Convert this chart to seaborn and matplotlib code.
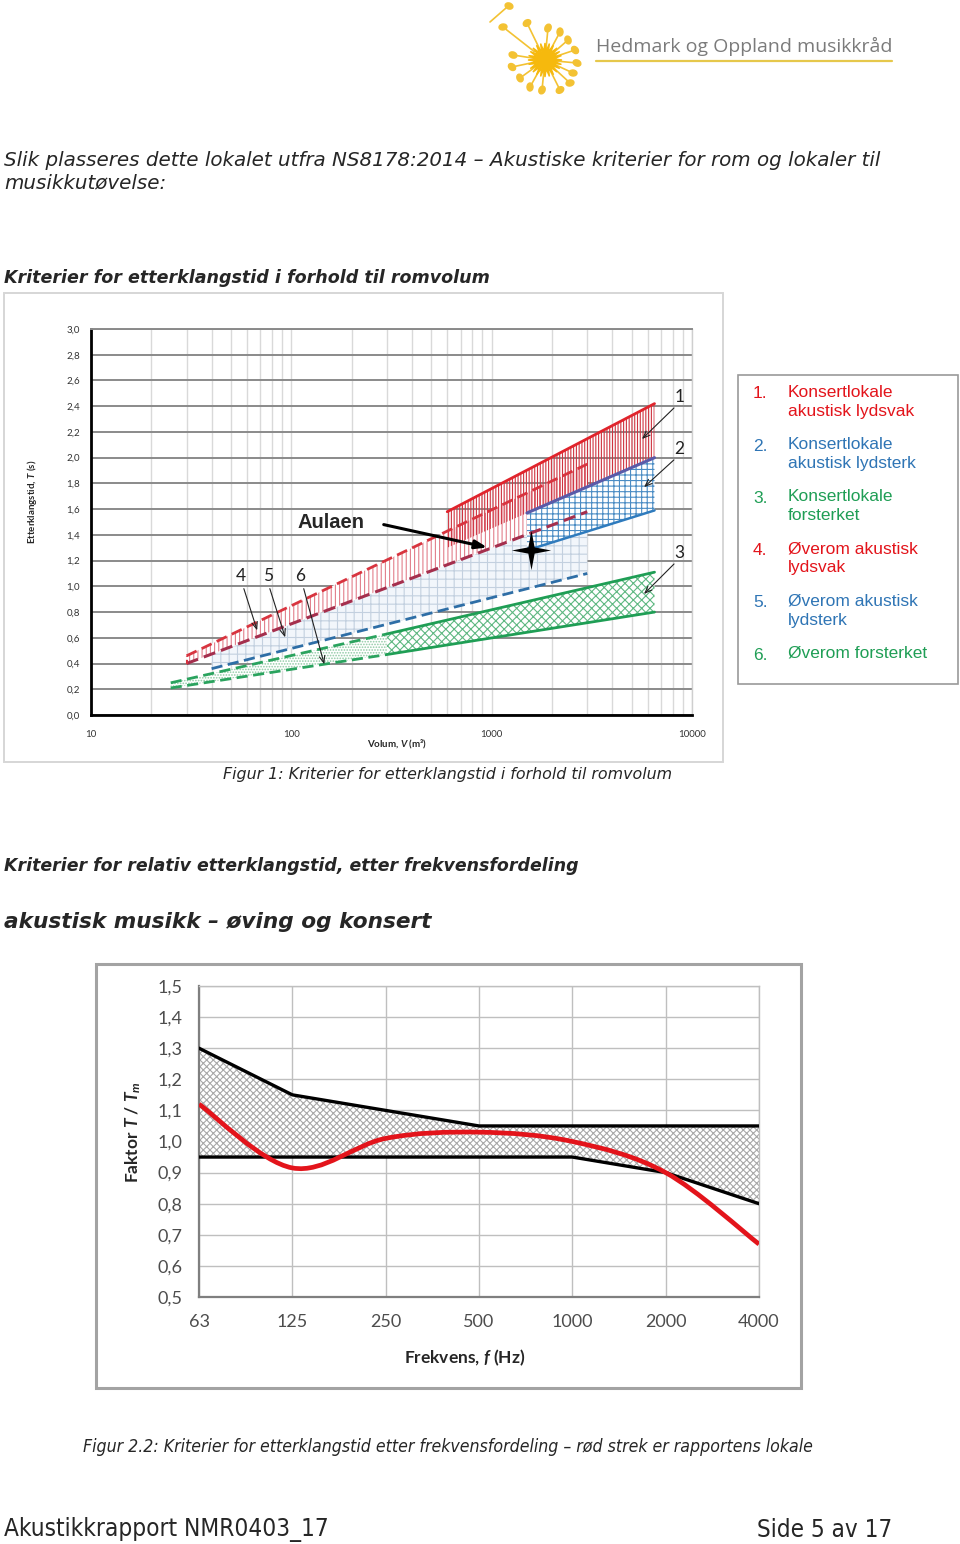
import numpy as np
import pandas as pd

import matplotlib as mpl
mpl.use("Agg")
import matplotlib.pyplot as plt
from matplotlib.path import Path
from matplotlib.patches import PathPatch, Rectangle, Ellipse, Polygon
from matplotlib.ticker import LogLocator, NullFormatter, NullLocator

import seaborn as sns

sns.set_style("white")

plt.rcParams["font.family"] = ["Lato", "DejaVu Sans"]
plt.rcParams["mathtext.fontset"] = "custom"
plt.rcParams["mathtext.rm"] = "Lato:bold"
plt.rcParams["mathtext.bf"] = "Lato:bold"
plt.rcParams["mathtext.it"] = "Lato:italic:bold"
plt.rcParams["hatch.linewidth"] = 0.8

W, H = 960, 1544

# --------------------------------------------------
# Data, figure 1: band limits, V (m3) and T (s)
# every limit is a straight line on the log-V axis
# --------------------------------------------------

V_BAND1 = [600, 6500]
T_BAND1_TOP = [1.58, 2.42]
T_BAND1_BOT = [1.30, 2.00]

V_BAND2 = [1500, 6500]
T_BAND2_TOP = [1.57, 2.00]
T_BAND2_BOT = [1.28, 1.59]

V_BAND3 = [300, 6500]
T_BAND3_TOP = [0.63, 1.11]
T_BAND3_BOT = [0.47, 0.80]

V_BAND4 = [30, 3000]
T_BAND4_TOP = [0.46, 1.95]
T_BAND4_BOT = [0.40, 1.58]

V_BAND5 = [40, 3000]
T_BAND5_TOP = [0.47, 1.58]
T_BAND5_BOT = [0.36, 1.10]

V_BAND6 = [25, 300]
T_BAND6_TOP = [0.25, 0.63]
T_BAND6_BOT = [0.21, 0.47]

AULAEN_V = 1570
AULAEN_T = 1.28

X1_TICKS = [10, 100, 1000, 10000]
X1_LABELS = ["10", "100", "1000", "10000"]

LEGEND_ITEMS = [
    ("1.", "Konsertlokale\nakustisk lydsvak"),
    ("2.", "Konsertlokale\nakustisk lydsterk"),
    ("3.", "Konsertlokale\nforsterket"),
    ("4.", "Øverom akustisk\nlydsvak"),
    ("5.", "Øverom akustisk\nlydsterk"),
    ("6.", "Øverom forsterket"),
]

# --------------------------------------------------
# Data, figure 2: relative reverberation time
# --------------------------------------------------

FREQ_LABELS = ["63", "125", "250", "500", "1000", "2000", "4000"]
UPPER = [1.30, 1.15, 1.10, 1.05, 1.05, 1.05, 1.05]
LOWER = [0.95, 0.95, 0.95, 0.95, 0.95, 0.90, 0.80]
ROOM = [1.12, 0.915, 1.01, 1.03, 1.00, 0.90, 0.67]

RED = "#e3141b"
BLUE = "#2f75b5"
GREEN = "#1f9e55"

NARROW = ["Liberation Sans Narrow", "DejaVu Sans"]

fig = plt.figure(figsize=(W / 100, H / 100), dpi=100)
fig.patch.set_facecolor("white")

# page overlay in pixel coordinates (y downwards)
pg = fig.add_axes([0, 0, 1, 1], zorder=0)
pg.set_xlim(0, W)
pg.set_ylim(H, 0)
pg.axis("off")

renderer = fig.canvas.get_renderer()


def page_text(x, y, s, width=None, **kw):
    kw.setdefault("va", "center")
    t = pg.text(x, y, s, **kw)
    if width is not None:
        w = t.get_window_extent(renderer).width
        t.set_fontsize(t.get_fontsize() * width / w)
    return t


def rect_px(x0, y0, x1, y1):
    return [x0 / W, 1 - y1 / H, (x1 - x0) / W, (y1 - y0) / H]


# --------------------------------------------------
# Header logo
# --------------------------------------------------

LOGO_NOTES = [
    (-42, -33), (-18, -37), (3, -32), (15, -28), (23, -20),
    (30, -10), (32, 3), (28, 13), (25, 23), (15, 30),
    (-3, 30), (-15, 27), (-25, 18), (-33, 7), (-32, -5),
]
cx, cy = 545, 60
for dx, dy in LOGO_NOTES:
    pg.plot([cx + dx * 0.25, cx + dx * 0.92], [cy + dy * 0.25, cy + dy * 0.92],
            color="#f3c233", linewidth=1.2, zorder=2)
    ang = np.degrees(np.arctan2(-dy, dx))
    pg.add_patch(Ellipse((cx + dx, cy + dy), 8, 6, angle=ang + 30,
                         color="#f3c233", zorder=3))
pg.plot([490, 506], [22, 8], color="#f3c233", linewidth=1.2)
pg.add_patch(Ellipse((509, 6), 8, 6, angle=20, color="#f3c233"))
ang = np.linspace(0, 2 * np.pi, 49)[:-1]
rad = np.where(np.arange(48) % 2 == 0, 17, 9)
pg.add_patch(Polygon(np.column_stack([cx + rad * np.cos(ang), cy + rad * np.sin(ang)]),
                     closed=True, color="#f6b90d", zorder=4))

page_text(596, 46, "Hedmark og Oppland musikkråd", width=296,
          family=["Open Sans", "DejaVu Sans"], color="#7b7b7b", fontsize=16)
pg.plot([596, 892], [61, 61], color="#e6c84b", linewidth=1.6)

# --------------------------------------------------
# Page texts
# --------------------------------------------------

t = page_text(4, 160, "Slik plasseres dette lokalet utfra NS8178:2014 – "
              "Akustiske kriterier for rom og lokaler til", width=877,
              family="DejaVu Sans", style="italic", fontsize=12)
page_text(4, 183, "musikkutøvelse:", family="DejaVu Sans", style="italic",
          fontsize=t.get_fontsize())
page_text(4, 278, "Kriterier for etterklangstid i forhold til romvolum", width=485,
          family="DejaVu Sans", style="italic", weight="bold", fontsize=11)
page_text(223, 774, "Figur 1: Kriterier for etterklangstid i forhold til romvolum",
          width=449, family="DejaVu Sans", style="italic", fontsize=9)
page_text(4, 866, "Kriterier for relativ etterklangstid, etter frekvensfordeling",
          width=574, family="DejaVu Sans", style="italic", weight="bold", fontsize=11)
page_text(4, 922, "akustisk musikk – øving og konsert", width=428,
          family="DejaVu Sans", style="italic", weight="bold", fontsize=14)
page_text(83, 1447, "Figur 2.2: Kriterier for etterklangstid etter frekvensfordeling"
          " – rød strek er rapportens lokale", width=730,
          family=NARROW, stretch="condensed", style="italic", fontsize=11)
page_text(4, 1530, "Akustikkrapport NMR0403_17", width=324,
          family=NARROW, stretch="condensed", fontsize=18)
page_text(757, 1530, "Side 5 av 17", width=135,
          family=NARROW, stretch="condensed", fontsize=18)

# frames
pg.add_patch(Rectangle((4, 293), 719, 469, fill=False, edgecolor="#d6d6d6", linewidth=1.4))
pg.add_patch(Rectangle((738, 375), 220, 309, fill=False, edgecolor="#9a9a9a", linewidth=1.2))
pg.add_patch(Rectangle((96, 964), 705, 424, fill=False, edgecolor="#a3a3a3", linewidth=2.2))

# legend of figure 1
legend_colors = [RED, BLUE, GREEN, RED, BLUE, GREEN]
for i, ((num, label), col) in enumerate(zip(LEGEND_ITEMS, legend_colors)):
    y = 394 + i * 52.2
    page_text(753, y, num, family=["Liberation Sans", "DejaVu Sans"],
              color=col, fontsize=12.5)
    page_text(788, y - 9, label, family=["Liberation Sans", "DejaVu Sans"],
              color=col, fontsize=12.5, linespacing=1.32, va="top")

# --------------------------------------------------
# Figure 1
# Reverberation time vs. room volume
# --------------------------------------------------

ax1 = fig.add_axes(rect_px(91, 329, 692, 715), zorder=1)
ax1.set_facecolor("white")
ax1.set_xscale("log")
ax1.set_xlim(10, 10000)
ax1.set_ylim(0, 3.0)


def band(v, bot, top, face, hcolor, hatch, z):
    ax1.fill_between(v, bot, top, facecolor=face, edgecolor=hcolor,
                     hatch=hatch, linewidth=0, zorder=z)


def edge(v, t_vals, color, dashed, lw, z):
    sns.lineplot(x=v, y=t_vals, ax=ax1, color=color, linewidth=lw,
                 linestyle=(0, (4, 2)) if dashed else "-", zorder=z)


band(V_BAND5, T_BAND5_BOT, T_BAND5_TOP, "#f2f6fb", "#c3d0df", "++", 1.1)
band(V_BAND6, T_BAND6_BOT, T_BAND6_TOP, "white", "#8fcaa4", "......", 1.2)
band(V_BAND4, T_BAND4_BOT, T_BAND4_TOP, "white", "#e27f8b", "||||", 1.3)
band(V_BAND3, T_BAND3_BOT, T_BAND3_TOP, "white", "#5fb882", "xxxx", 1.4)
band(V_BAND2, T_BAND2_BOT, T_BAND2_TOP, "white", "#4a8cc4", "+++", 1.5)
band(V_BAND1, T_BAND1_BOT, T_BAND1_TOP, "none", "#cf3340", "||||||", 1.6)

edge(V_BAND6, T_BAND6_TOP, "#2aa35e", True, 2.0, 3)
edge(V_BAND6, T_BAND6_BOT, "#2aa35e", True, 2.0, 3)
edge(V_BAND5, T_BAND5_BOT, "#2e6ea6", True, 2.0, 3)
edge(V_BAND4, T_BAND4_TOP, "#d8343f", True, 2.0, 3)
edge(V_BAND4, T_BAND4_BOT, "#a52f4d", True, 2.2, 3)
ax1.plot([V_BAND4[0]] * 2, [T_BAND4_BOT[0], T_BAND4_TOP[0]], color="#d8343f",
         linewidth=1.5, linestyle=(0, (2, 1.5)), zorder=3)
edge(V_BAND3, T_BAND3_TOP, "#1f9e55", False, 2.0, 3)
edge(V_BAND3, T_BAND3_BOT, "#1f9e55", False, 2.0, 3)
edge(V_BAND2, T_BAND2_BOT, "#2f7bbd", False, 1.8, 3)
edge(V_BAND2, T_BAND2_TOP, "#5a5aa8", False, 2.2, 3)
edge(V_BAND1, T_BAND1_TOP, "#e0242c", False, 2.0, 3)

star = Path([(0, 1), (0.16, 0.16), (1, 0), (0.16, -0.16), (0, -1),
             (-0.16, -0.16), (-1, 0), (-0.16, 0.16), (0, 1)])
ax1.scatter([AULAEN_V], [AULAEN_T], marker=star, s=800, color="black",
            linewidths=0, zorder=6)

ax1.set_xticks(X1_TICKS, labels=X1_LABELS)
ax1.xaxis.set_minor_locator(LogLocator(base=10, subs=np.arange(2, 10)))
ax1.xaxis.set_minor_formatter(NullFormatter())
ax1.set_yticks(np.arange(0, 3.01, 0.2))
ax1.set_yticklabels([f"{v:.1f}".replace(".", ",") for v in np.arange(0, 3.01, 0.2)])
ax1.yaxis.set_minor_locator(NullLocator())

ax1.set_axisbelow(True)
ax1.grid(axis="x", which="both", color="#d9d9d9", linewidth=1.0)
ax1.grid(axis="y", which="major", color="#8a8a8a", linewidth=1.4)

ax1.tick_params(axis="both", which="both", direction="out", color="black",
                labelsize=7, labelcolor="#333333")
ax1.tick_params(axis="y", length=5, width=1.5, pad=3)
ax1.tick_params(axis="x", which="both", length=5, width=1.2, pad=6)

for side in ["left", "bottom"]:
    ax1.spines[side].set_color("black")
    ax1.spines[side].set_linewidth(2.0)
ax1.spines["top"].set_color("#8a8a8a")
ax1.spines["top"].set_linewidth(1.4)
ax1.spines["right"].set_color("#cfcfcf")
ax1.spines["right"].set_linewidth(1.0)
ax1.set_xlabel("")
ax1.set_ylabel("")

ax1.text(-0.098, 0.552, "Etterklangstid, $T$ (s)", transform=ax1.transAxes,
         rotation=90, ha="center", va="center", fontsize=7, weight="bold")
ax1.text(0.509, -0.076, "Volum, $V$ (m³)", transform=ax1.transAxes,
         ha="center", va="center", fontsize=7, weight="bold")


# annotations (page pixel positions)
def px(x, y):
    return (x, H - y)


ax1.annotate("Aulaen", xy=px(298, 523), xycoords="figure pixels",
             ha="left", va="center", fontsize=14.5, weight="bold",
             family=["Liberation Sans", "DejaVu Sans"], zorder=7)
ax1.annotate("", xy=px(490, 548), xytext=px(381, 524), xycoords="figure pixels",
             textcoords="figure pixels", annotation_clip=False,
             arrowprops=dict(arrowstyle="-|>,head_length=0.7,head_width=0.25",
                             color="black", linewidth=2.2), zorder=7)

for lab, tx, ty, hx, hy, ax_, ay_ in [
    ("1", 680, 397, 676, 406, 640, 441),
    ("2", 679, 449, 676, 458, 642, 489),
    ("3", 679, 553, 676, 562, 642, 596),
    ("4", 241, 576, 243, 586, 258, 633),
    ("5", 268, 576, 269, 586, 286, 640),
    ("6", 300, 576, 303, 586, 325, 667),
]:
    ax1.annotate(lab, xy=px(tx, ty), xycoords="figure pixels", ha="center",
                 va="center", fontsize=12.5, color="#222222", zorder=7,
                 annotation_clip=False)
    ax1.annotate("", xy=px(ax_, ay_), xytext=px(hx, hy), xycoords="figure pixels",
                 textcoords="figure pixels", annotation_clip=False,
                 arrowprops=dict(arrowstyle="->,head_length=0.5,head_width=0.2",
                                 color="#222222", linewidth=0.8), zorder=7)

# --------------------------------------------------
# Figure 2
# Relative reverberation time by frequency
# --------------------------------------------------

df2 = pd.DataFrame({
    "pos": np.arange(len(FREQ_LABELS)),
    "upper": UPPER,
    "lower": LOWER,
    "room": ROOM,
})

ax2 = fig.add_axes(rect_px(199, 986, 759, 1297), zorder=1)
ax2.set_facecolor("white")

ax2.fill_between(df2["pos"], df2["lower"], df2["upper"], facecolor="white",
                 edgecolor="#a8a8a8", hatch="xxxxx", linewidth=0, zorder=2)

sns.lineplot(data=df2, x="pos", y="upper", ax=ax2, color="black",
             linewidth=2.4, zorder=3)
sns.lineplot(data=df2, x="pos", y="lower", ax=ax2, color="black",
             linewidth=2.4, zorder=3)

# smooth red line (Excel-style bezier through the measured points)
pts = df2[["pos", "room"]].to_numpy(dtype=float)
verts = [tuple(pts[0])]
codes = [Path.MOVETO]
n = len(pts)
for i in range(n - 1):
    p0 = pts[max(i - 1, 0)]
    p1 = pts[i]
    p2 = pts[i + 1]
    p3 = pts[min(i + 2, n - 1)]
    c1 = p1 + (p2 - p0) / 6
    c2 = p2 - (p3 - p1) / 6
    verts += [tuple(c1), tuple(c2), tuple(p2)]
    codes += [Path.CURVE4] * 3
ax2.add_patch(PathPatch(Path(verts, codes), facecolor="none", edgecolor=RED,
                        linewidth=3.4, capstyle="butt", zorder=4))

ax2.set_xlim(0, len(FREQ_LABELS) - 1)
ax2.set_ylim(0.5, 1.5)
ax2.set_xticks(df2["pos"], labels=FREQ_LABELS)
y2 = np.arange(0.5, 1.51, 0.1)
ax2.set_yticks(y2, labels=[f"{v:.1f}".replace(".", ",") for v in y2])

ax2.set_axisbelow(True)
ax2.grid(True, color="#bfbfbf", linewidth=1.0)
ax2.tick_params(axis="both", length=0, labelsize=13, labelcolor="#4d4d4d")
ax2.tick_params(axis="y", pad=12)
ax2.tick_params(axis="x", pad=12)

for side in ["left", "bottom"]:
    ax2.spines[side].set_color("#7f7f7f")
    ax2.spines[side].set_linewidth(1.6)
for side in ["top", "right"]:
    ax2.spines[side].set_color("#bfbfbf")
    ax2.spines[side].set_linewidth(1.0)
ax2.set_xlabel("")
ax2.set_ylabel("")

ax2.text(-0.118, 0.53, "Faktor $T$ / $T_m$", transform=ax2.transAxes,
         rotation=90, ha="center", va="center", fontsize=12.5, weight="bold")
ax2.text(0.475, -0.196, "Frekvens, $f$ (Hz)", transform=ax2.transAxes,
         ha="center", va="center", fontsize=12.5, weight="bold")

fig.savefig("out.png", dpi=100)
plt.close(fig)
